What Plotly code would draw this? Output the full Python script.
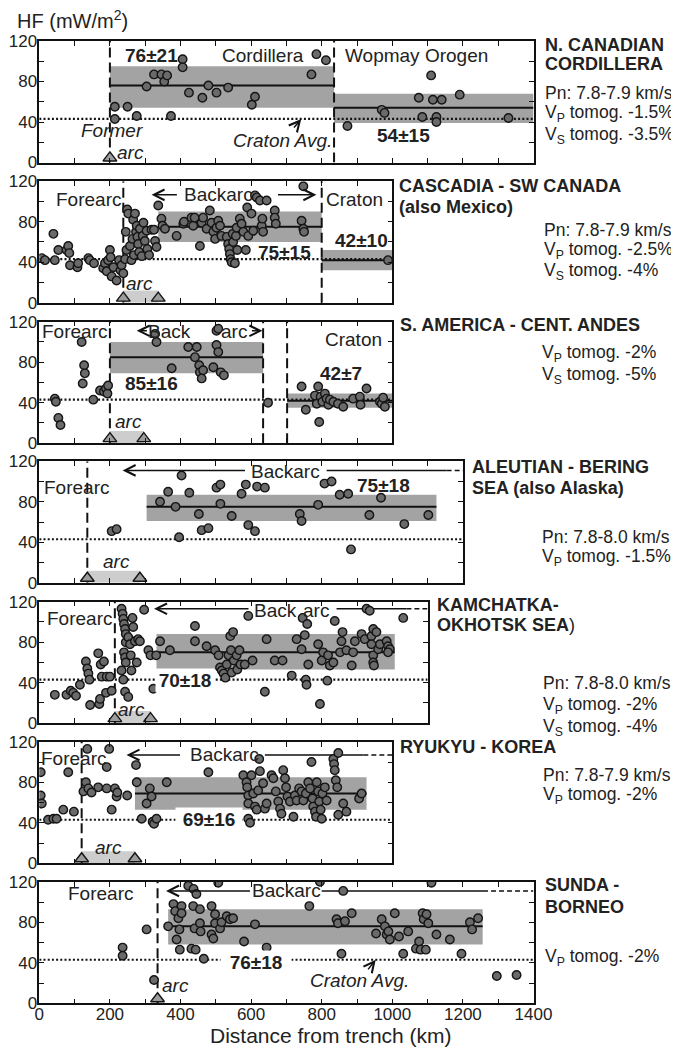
import plotly.graph_objects as go

FIG_W, FIG_H = 679, 1047

# ---------------- data ----------------
x_max_km = [1400, 1000, 1000, 1200, 1100, 1000, 1400]
craton_avg = 43

# Panel 1: N. Canadian Cordillera
p1_x = [214, 214, 250, 276, 304, 325, 346, 354, 362, 373, 406, 406, 424, 462, 479, 502, 535, 602, 611, 771, 785, 812,
        873, 970, 978, 1075, 1085, 1110, 1115, 1125, 1125, 1140, 1191, 1329]
p1_y = [55, 43, 55, 46, 75, 87, 87, 80, 86, 46, 102, 94, 69, 64, 76, 69, 74, 57, 65, 87, 107, 101,
        36, 52, 49, 64, 45, 86, 62, 45, 40, 62, 67, 44]

# Panel 2: Cascadia - SW Canada
p2_x = [7, 16, 40, 44, 54, 77, 82, 85, 87, 108, 110, 139, 143, 155, 181, 186, 191, 195, 200, 202, 205, 210, 219, 226,
        230, 233, 238, 243, 247, 249, 252, 245, 257, 261, 264, 266, 268, 271, 274, 276, 278, 280, 283, 285, 290, 293,
        295, 299, 304, 306, 311, 318, 325, 328, 332, 337, 346, 349, 356, 389, 408, 410, 431, 436, 440, 455, 460, 464,
        474, 483, 488, 493, 498, 502, 507, 512, 516, 531, 535, 538, 540, 542, 545, 548, 549, 554, 557, 559, 561, 568,
        573, 578, 585, 589, 592, 601, 606, 611, 616, 625, 630, 632, 634, 644, 667, 667, 670, 743, 748, 750, 748, 988]
p2_y = [44, 42, 68, 42, 52, 52, 56, 49, 37, 35, 39, 44, 42, 39, 34, 39, 31, 42, 52, 45, 26, 35, 22, 42,
        32, 37, 29, 43, 52, 92, 88, 70, 56, 42, 63, 82, 47, 88, 70, 76, 65, 58, 50, 73, 46, 66,
        79, 61, 71, 53, 47, 72, 72, 61, 55, 96, 83, 76, 73, 66, 78, 80, 84, 76, 84, 56, 79, 84,
        73, 91, 79, 70, 63, 74, 81, 76, 66, 65, 58, 53, 48, 43, 40, 68, 60, 39, 66, 74, 52, 83,
        78, 70, 52, 94, 66, 88, 71, 106, 104, 101, 76, 83, 70, 101, 91, 84, 78, 81, 73, 70, 115, 42]

# Panel 3: S. America - Cent. Andes
p3_x = [44, 47, 54, 60, 120, 127, 129, 123, 153, 172, 183, 189, 193, 195, 328, 332, 375, 422, 446, 441, 453, 455, 460,
        464, 493, 502, 507, 502, 507, 514, 523, 648, 743, 755, 781, 786, 790, 793, 797, 802, 809, 814, 819, 823, 833,
        846, 861, 889, 908, 910, 927, 965, 970, 974, 979]
p3_y = [44, 41, 25, 18, 100, 77, 69, 59, 43, 52, 51, 54, 49, 57, 108, 100, 74, 95, 95, 85, 77, 70, 64,
        72, 75, 111, 113, 97, 90, 70, 67, 40, 56, 33, 47, 39, 56, 21, 46, 41, 49, 44, 38, 43, 41,
        39, 36, 44, 46, 38, 54, 41, 39, 45, 36]

# Panel 4: Aleutian - Bering Sea
p4_x = [205, 219, 342, 365, 386, 396, 403, 425, 452, 460, 479, 502, 513, 513, 545, 573, 585, 592, 611, 617, 639,
        738, 743, 790, 808, 828, 851, 875, 883, 935, 968, 1034, 1102]
p4_y = [51, 53, 80, 90, 75, 45, 106, 89, 68, 52, 54, 94, 97, 78, 66, 88, 97, 57, 51, 95, 94,
        68, 61, 77, 98, 100, 87, 88, 33, 67, 84, 58, 67]

# Panel 5: Kamchatka - Okhotsk Sea
p5_x = [44, 77, 89, 96, 104, 115, 132, 136, 139, 142, 144, 167, 170, 172, 174, 177, 183, 191, 200, 189, 205,
        233, 236, 238, 240, 243, 245, 240, 243, 245, 233, 238, 243, 252, 245, 252, 257, 259, 261, 264, 266, 271,
        276, 280, 285, 297, 309, 315, 323, 331, 342, 370, 441, 441, 474, 498, 508, 512, 517, 522, 527, 531, 536,
        541, 543, 545, 549, 551, 559, 561, 567, 570, 582, 592, 604, 644, 639, 667, 689, 715, 729, 743, 746, 752,
        759, 762, 755, 757, 790, 795, 800, 804, 816, 818, 823, 833, 837, 852, 856, 859, 870, 885, 889, 894, 913,
        922, 927, 936, 941, 941, 946, 946, 946, 948, 955, 960, 965, 984, 988, 993, 988, 1031]
p5_y = [28, 28, 32, 30, 27, 38, 61, 54, 49, 43, 18, 69, 19, 24, 58, 46, 61, 46, 46, 30, 32,
        113, 108, 103, 98, 93, 88, 70, 65, 60, 52, 43, 31, 26, 80, 85, 78, 67, 52, 104, 95, 81,
        60, 83, 81, 112, 72, 67, 34, 67, 81, 72, 96, 81, 76, 72, 67, 55, 52, 49, 45, 58, 67,
        86, 72, 50, 90, 62, 67, 53, 72, 58, 58, 106, 62, 83, 31, 62, 62, 47, 83, 73, 104, 87,
        98, 58, 43, 38, 78, 19, 62, 70, 42, 67, 57, 60, 101, 70, 81, 90, 72, 57, 70, 81, 88,
        83, 113, 111, 86, 78, 93, 67, 60, 57, 90, 73, 78, 81, 76, 73, 70, 104]

# Panel 6: Ryukyu - Korea
p6_x = [4, 4, 7, 25, 40, 49, 68, 82, 98, 125, 132, 136, 139, 148, 167, 191, 191, 198, 205, 214, 219, 221, 249,
        274, 276, 290, 304, 313, 318, 321, 325, 332, 361, 479, 578, 587, 589, 592, 592, 592, 597, 601, 606, 611,
        616, 620, 623, 625, 634, 639, 644, 658, 663, 670, 677, 682, 686, 691, 696, 699, 703, 710, 720, 724, 729,
        736, 743, 748, 755, 762, 767, 771, 774, 776, 781, 784, 786, 790, 793, 797, 800, 802, 809, 814, 833, 835,
        837, 840, 844, 847, 847, 861, 870, 906, 913]
p6_y = [90, 67, 59, 43, 44, 44, 53, 90, 51, 71, 80, 113, 74, 70, 75, 74, 95, 113, 53, 74, 66, 70, 67,
        97, 80, 44, 59, 74, 66, 41, 39, 44, 80, 90, 87, 80, 75, 67, 59, 44, 40, 87, 69, 56,
        53, 72, 103, 91, 79, 54, 59, 87, 84, 71, 61, 54, 49, 92, 84, 75, 66, 61, 46, 67, 62,
        74, 71, 62, 69, 80, 74, 100, 64, 56, 51, 46, 80, 71, 61, 53, 44, 69, 75, 62, 103, 98,
        92, 82, 75, 109, 48, 59, 51, 64, 69]

# Panel 7: Sunda - Borneo
p7_x = [236, 236, 304, 325, 365, 380, 385, 389, 394, 397, 398, 403, 403, 422, 431, 436, 437, 440, 443, 445, 455,
        455, 457, 466, 488, 488, 493, 498, 498, 507, 512, 516, 531, 540, 549, 580, 611, 644, 765, 795, 842, 846,
        856, 861, 866, 885, 954, 970, 979, 984, 989, 993, 1007, 1019, 1031, 1045, 1067, 1076, 1080, 1086, 1089,
        1095, 1097, 1102, 1111, 1125, 1163, 1196, 1220, 1226, 1243, 1296, 1352]
p7_y = [55, 47, 73, 23, 76, 98, 91, 63, 84, 73, 53, 96, 89, 116, 54, 96, 113, 74, 53, 108, 93,
        79, 71, 44, 96, 68, 64, 79, 88, 119, 74, 80, 86, 83, 84, 61, 78, 55, 96, 120, 83, 79,
        49, 111, 81, 89, 69, 83, 76, 68, 71, 63, 89, 66, 49, 71, 54, 61, 53, 89, 83,
        53, 88, 79, 119, 68, 63, 49, 80, 73, 84, 27, 28]

# zone boundaries (dashed verticals, km)
p1_bounds = [200, 835]
p2_bounds = [238, 800]
p3_bounds = [200, 634, 702]
p4_bounds = [136]
p5_bounds = [214]
p6_bounds = [120]
p7_bounds = [335]

# volcanic arc positions (km)
p1_arc = [200]
p2_arc = [238, 337]
p3_arc = [200, 296]
p4_arc = [136, 285]
p5_arc = [214, 315]
p6_arc = [120, 271]
p7_arc = [335]

# mean +/- std bands: from km, to km, mean, low, high
p1_band_from, p1_band_to, p1_band_mean, p1_band_lo, p1_band_hi = [200, 835], [835, 1400], [76, 54], [54, 39], [95, 68]
p2_band_from, p2_band_to, p2_band_mean, p2_band_lo, p2_band_hi = [337, 800], [800, 1000], [75, 42], [60, 32], [90, 52]
p3_band_from, p3_band_to, p3_band_mean, p3_band_lo, p3_band_hi = [200, 702], [634, 1000], [85, 42], [69, 35], [100, 49]
p4_band_from, p4_band_to, p4_band_mean, p4_band_lo, p4_band_hi = [304], [1125], [75], [61], [87]
p5_band_from, p5_band_to, p5_band_mean, p5_band_lo, p5_band_hi = [332], [1007], [70], [53], [88]
p6_band_from, p6_band_to, p6_band_mean, p6_band_lo, p6_band_hi = [271], [927], [69], [53], [85]
p7_band_from, p7_band_to, p7_band_mean, p7_band_lo, p7_band_hi = [365], [1256], [76], [58], [93]

y_ticks = [0, 40, 80, 120]
x_ticks = [0, 200, 400, 600, 800, 1000, 1200, 1400]

right_titles = [
    ["N. CANADIAN", "CORDILLERA"],
    ["CASCADIA - SW CANADA", "(also Mexico)"],
    ["S. AMERICA - CENT. ANDES"],
    ["ALEUTIAN - BERING", "SEA (also Alaska)"],
    ["KAMCHATKA-", "OKHOTSK SEA"],
    ["RYUKYU - KOREA"],
    ["SUNDA -", "BORNEO"],
]
right_notes = [
    ["Pn: 7.8-7.9 km/s", "V<sub>P</sub> tomog. -1.5%", "V<sub>S</sub> tomog. -3.5%"],
    ["Pn: 7.8-7.9 km/s", "V<sub>P</sub> tomog. -2.5%", "V<sub>S</sub> tomog. -4%"],
    ["V<sub>P</sub> tomog. -2%", "V<sub>S</sub> tomog. -5%"],
    ["Pn: 7.8-8.0 km/s", "V<sub>P</sub> tomog. -1.5%"],
    ["Pn: 7.8-8.0 km/s", "V<sub>P</sub> tomog. -2%", "V<sub>S</sub> tomog. -4%"],
    ["Pn: 7.8-7.9 km/s", "V<sub>P</sub> tomog. -2%"],
    ["V<sub>P</sub> tomog. -2%"],
]

# ---------------- layout geometry (window pixels; page body adds an 8 px offset) ----------------
FONT = "Liberation Sans, Arial, Helvetica, sans-serif"
PAGE_OFF = 8
PLOT_LEFT = 39.3
PX_PER_KM = 0.353
BOTTOMS = [162.5, 302.7, 443.2, 582.8, 723.2, 863.3, 1003.3]
HEIGHT = 121.5
BAND_COLOR = "#a3a3a3"
ARC_COLOR = "#cdcdcd"
TXT = "#222222"


def paper_x(px):
    return (px - PAGE_OFF) / FIG_W


def paper_y(py):
    return 1 - (py - PAGE_OFF) / FIG_H


xs = [p1_x, p2_x, p3_x, p4_x, p5_x, p6_x, p7_x]
ys = [p1_y, p2_y, p3_y, p4_y, p5_y, p6_y, p7_y]
bounds = [p1_bounds, p2_bounds, p3_bounds, p4_bounds, p5_bounds, p6_bounds, p7_bounds]
arcs = [p1_arc, p2_arc, p3_arc, p4_arc, p5_arc, p6_arc, p7_arc]
bands = [
    (p1_band_from, p1_band_to, p1_band_mean, p1_band_lo, p1_band_hi),
    (p2_band_from, p2_band_to, p2_band_mean, p2_band_lo, p2_band_hi),
    (p3_band_from, p3_band_to, p3_band_mean, p3_band_lo, p3_band_hi),
    (p4_band_from, p4_band_to, p4_band_mean, p4_band_lo, p4_band_hi),
    (p5_band_from, p5_band_to, p5_band_mean, p5_band_lo, p5_band_hi),
    (p6_band_from, p6_band_to, p6_band_mean, p6_band_lo, p6_band_hi),
    (p7_band_from, p7_band_to, p7_band_mean, p7_band_lo, p7_band_hi),
]

fig = go.Figure()
shapes = []
annotations = []
layout_axes = {}


def refs(i):
    return ("x" if i == 0 else f"x{i+1}"), ("y" if i == 0 else f"y{i+1}")


def txt(i, x, y, text, size=19, **kw):
    xr, yr = refs(i)
    d = dict(x=x, y=y, xref=xr, yref=yr, text=text, showarrow=False,
             font=dict(family=FONT, size=size, color=TXT), xanchor="center", yanchor="middle")
    d.update(kw)
    annotations.append(d)


def arrow(i, head, tail, y, tail_y=None):
    xr, yr = refs(i)
    annotations.append(dict(x=head, y=y, ax=tail, ay=(y if tail_y is None else tail_y),
                            xref=xr, yref=yr, axref=xr, ayref=yr,
                            text="", showarrow=True, arrowhead=5, arrowsize=1.4,
                            arrowwidth=1.5, arrowcolor="#111111", standoff=0, startstandoff=0))


def hline(i, x0, x1, y, dash="solid", width=1.5):
    xr, yr = refs(i)
    shapes.append(dict(type="line", xref=xr, yref=yr, x0=x0, x1=x1, y0=y, y1=y,
                       line=dict(color="#111111", width=width, dash=dash), layer="below"))


for i in range(7):
    xr, yr = refs(i)
    xmax = x_max_km[i]
    right = PLOT_LEFT + xmax * PX_PER_KM
    xdom = [paper_x(PLOT_LEFT), paper_x(right)]
    ydom = [paper_y(BOTTOMS[i]), paper_y(BOTTOMS[i] - HEIGHT)]
    xname = "xaxis" if i == 0 else f"xaxis{i+1}"
    yname = "yaxis" if i == 0 else f"yaxis{i+1}"
    tick_common = dict(showline=True, linecolor="#111111", linewidth=1.5, mirror="ticks",
                       ticks="inside", ticklen=5, tickwidth=1.2, tickcolor="#111111",
                       showgrid=False, zeroline=False, fixedrange=True, automargin=False,
                       tickfont=dict(family=FONT, size=17, color=TXT))
    layout_axes[xname] = dict(domain=xdom, range=[0, xmax], anchor=yr, tickvals=x_ticks,
                              ticktext=[str(v) for v in x_ticks], showticklabels=(i == 6),
                              ticklabelstandoff=-5,
                              minor=dict(ticks="inside", ticklen=5, tickwidth=1.2, tickcolor="#111111", dtick=100, tick0=0),
                              **tick_common)
    layout_axes[yname] = dict(domain=ydom, range=[0, 120], anchor=xr, tickvals=y_ticks,
                              ticktext=[str(v) for v in y_ticks], ticklabelstandoff=-3,
                              minor=dict(ticks="inside", ticklen=5, tickwidth=1.2, tickcolor="#111111", dtick=20, tick0=0),
                              **tick_common)

    # bands
    bf, bt, bm, bl, bh = bands[i]
    for k in range(len(bf)):
        shapes.append(dict(type="rect", xref=xr, yref=yr, x0=bf[k], x1=bt[k], y0=bl[k], y1=bh[k],
                           fillcolor=BAND_COLOR, line=dict(width=0), layer="below"))
    # arc shading between the two arc triangles
    if len(arcs[i]) == 2:
        shapes.append(dict(type="rect", xref=xr, yref=yr, x0=arcs[i][0], x1=arcs[i][1], y0=0, y1=12,
                           fillcolor=ARC_COLOR, line=dict(width=0), layer="below"))
    # craton average dotted line
    shapes.append(dict(type="line", xref=xr, yref=yr, x0=0, x1=xmax, y0=craton_avg, y1=craton_avg,
                       line=dict(color="#111111", width=2.2, dash="2px,2.2px"), layer="below"))
    # mean lines
    for k in range(len(bf)):
        shapes.append(dict(type="line", xref=xr, yref=yr, x0=bf[k], x1=bt[k], y0=bm[k], y1=bm[k],
                           line=dict(color="#111111", width=2), layer="below"))
    # zone boundaries
    for b in bounds[i]:
        shapes.append(dict(type="line", xref=xr, yref=yr, x0=b, x1=b, y0=0, y1=120,
                           line=dict(color="#111111", width=2, dash="10px,5px"), layer="below"))

    fig.add_trace(go.Scatter(x=xs[i], y=ys[i], mode="markers", xaxis=xr, yaxis=yr, showlegend=False,
                             hoverinfo="x+y",
                             marker=dict(size=8.5, color="#6a6a6a", line=dict(color="#151515", width=1.4))))
    fig.add_trace(go.Scatter(x=arcs[i], y=[4.5] * len(arcs[i]), mode="markers", xaxis=xr, yaxis=yr,
                             showlegend=False, cliponaxis=False, hoverinfo="skip",
                             marker=dict(symbol="triangle-up", size=12, color="#9c9c9c",
                                         line=dict(color="#151515", width=1.4))))

# ---------------- in-panel labels ----------------
# Panel 1
txt(0, 318, 106, "<b>76±21</b>")
txt(0, 634, 106, "Cordillera")
txt(0, 1069, 106, "Wopmay Orogen")
txt(0, 207, 32, "<i>Former</i>")
txt(0, 257, 10, "<i>arc</i>")
txt(0, 688, 22, "<i>Craton Avg.</i>")
txt(0, 1031, 27, "<b>54±15</b>")
arrow(0, 742, 718, 43, tail_y=33)
# Panel 2
txt(1, 139, 102, "Forearc")
txt(1, 507, 106.5, "Backarc")
arrow(1, 318, 394, 106.5)
arrow(1, 785, 672, 106.5)
txt(1, 894, 102, "Craton")
txt(1, 696, 50, "<b>75±15</b>")
txt(1, 913, 61, "<b>42±10</b>")
txt(1, 285, 19, "<i>arc</i>")
# Panel 3
txt(2, 101, 110, "Forearc")
txt(2, 370, 110, "Back")
txt(2, 551, 110, "arc")
arrow(2, 276, 309, 111)
arrow(2, 632, 598, 111)
txt(2, 889, 102, "Craton")
txt(2, 318, 59, "<b>85±16</b>")
txt(2, 856, 69, "<b>42±7</b>")
txt(2, 252, 21, "<i>arc</i>")
# Panel 4
txt(3, 106, 94, "Forearc")
txt(3, 698, 110, "Backarc")
arrow(3, 236, 587, 111)
hline(3, 814, 1154, 111)
hline(3, 1154, 1200, 111, dash="5px,3px")
txt(3, 974, 96, "<b>75±18</b>")
txt(3, 219, 21, "<i>arc</i>")
# Panel 5
txt(4, 115, 103, "Forearc")
txt(4, 670, 111, "Back")
txt(4, 785, 111, "arc")
arrow(4, 325, 597, 113)
hline(4, 842, 1040, 113)
hline(4, 1040, 1100, 113, dash="5px,3px")
txt(4, 414, 42.6, "<b>70±18</b>", bgcolor="white", width=56)
txt(4, 261, 14, "<i>arc</i>")
# Panel 6
txt(5, 96, 104, "Forearc")
txt(5, 526, 107, "Backarc")
arrow(5, 247, 403, 107)
hline(5, 639, 918, 107)
hline(5, 918, 1000, 107, dash="5px,3px")
txt(5, 481, 43, "<b>69±16</b>", bgcolor="white", width=64)
txt(5, 195, 16, "<i>arc</i>")
# Panel 7
txt(6, 172, 108, "Forearc")
txt(6, 700, 111, "Backarc")
arrow(6, 359, 601, 111)
hline(6, 800, 1257, 111)
hline(6, 1257, 1400, 111, dash="5px,3px")
txt(6, 615, 40, "<b>76±18</b>", bgcolor="white", width=68)
txt(6, 908, 23, "<i>Craton Avg.</i>")
arrow(6, 953, 928, 43, tail_y=32)
txt(6, 386, 18, "<i>arc</i>")

# ---------------- right-hand region notes ----------------
title_pos = [(543, [45, 64]), (397, [186, 207]), (398, [325]), (470, [467, 488]),
             (435, [605, 625]), (398, [747]), (543, [885, 907])]
note_pos = [(543, [93, 113, 135]), (542, [230, 251, 272]), (540, [353, 375]), (540, [537, 557]),
            (541, [683, 705, 727]), (541, [775, 795]), (543, [957])]
for i in range(7):
    tx, tys = title_pos[i]
    for line, yy in zip(right_titles[i], tys):
        text = f"<b>{line}</b>" + (")" if i == 4 and line.startswith("OKHOTSK") else "")
        annotations.append(dict(x=paper_x(tx), y=paper_y(yy), xref="paper", yref="paper", text=text,
                                showarrow=False, xanchor="left", yanchor="middle",
                                font=dict(family=FONT, size=18, color=TXT)))
    nx, nys = note_pos[i]
    for line, yy in zip(right_notes[i], nys):
        annotations.append(dict(x=paper_x(nx), y=paper_y(yy), xref="paper", yref="paper", text=line,
                                showarrow=False, xanchor="left", yanchor="middle",
                                font=dict(family=FONT, size=17.5, color=TXT)))

# axis titles
annotations.append(dict(x=paper_x(15), y=paper_y(20), xref="paper", yref="paper",
                        text="HF (mW/m<sup>2</sup>)", showarrow=False, xanchor="left", yanchor="middle",
                        font=dict(family=FONT, size=20, color=TXT)))
annotations.append(dict(x=paper_x(331), y=paper_y(1035), xref="paper", yref="paper",
                        text="Distance from trench (km)", showarrow=False, xanchor="center", yanchor="middle",
                        font=dict(family=FONT, size=21, color=TXT)))

fig.update_layout(width=FIG_W, height=FIG_H, margin=dict(l=0, r=0, t=0, b=0, autoexpand=False),
                  paper_bgcolor="white", plot_bgcolor="white", showlegend=False,
                  shapes=shapes, annotations=annotations, font=dict(family=FONT, color=TXT),
                  **layout_axes)

fig.write_html("out.html")
